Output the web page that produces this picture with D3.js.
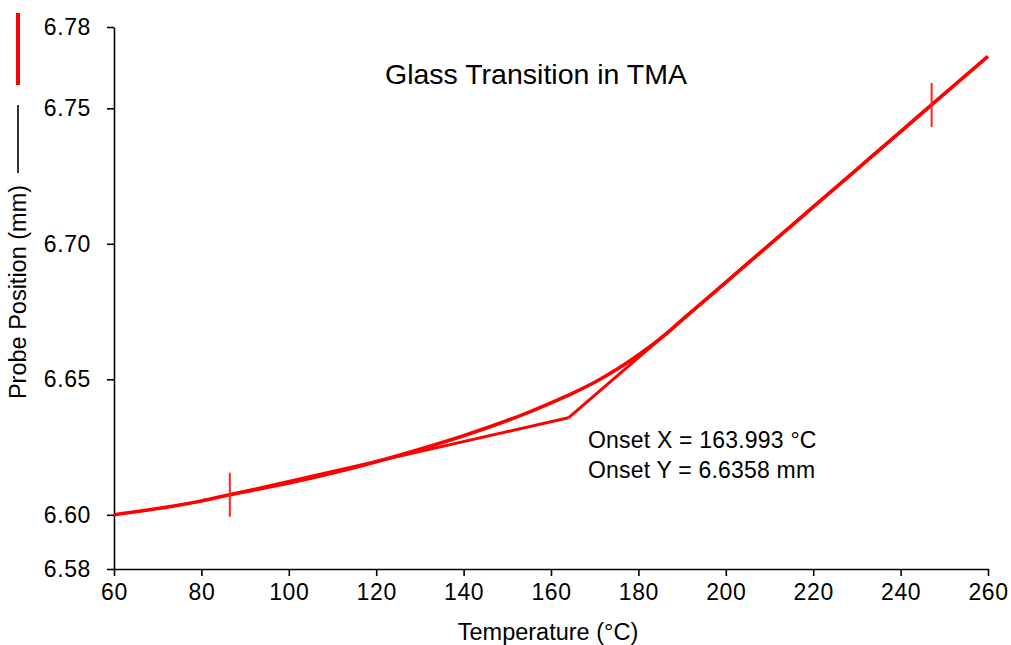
<!DOCTYPE html>
<html>
<head>
<meta charset="utf-8">
<script src="https://cdn.jsdelivr.net/npm/d3@7"></script>
<style>
  body { margin: 0; background: #fff; }
  svg { display: block; font-family: Arial, "Liberation Sans", sans-serif; }
  .axis path, .axis line { stroke: #000; stroke-width: 1.6; }
  .axis text { fill: #000; font-size: 23px; letter-spacing: 0.6px; }
</style>
</head>
<body>
<svg id="chart" width="1011" height="645"></svg>
<script>
// TMA run: temperature (°C) vs probe position (mm)
var temps = [60, 70, 80, 86.5, 90, 100, 110, 120, 130, 140, 150, 155, 160, 165, 170, 175, 180, 185, 190, 200, 210, 220, 230, 240, 247, 260];
var probe = [6.6000, 6.6023, 6.6051, 6.6074, 6.6085, 6.6117, 6.6154, 6.6196, 6.6242, 6.6292, 6.6348, 6.6379, 6.6413, 6.6449, 6.6489, 6.6536, 6.6590, 6.6650, 6.6719, 6.6858, 6.6997, 6.7136, 6.7275, 6.7414, 6.7512, 6.7692];

// tangent lines meeting at the onset point
var lowTanT = [86.5, 163.993];
var lowTanY = [6.6074, 6.6358];
var highTanT = [163.993, 247.1];
var highTanY = [6.6358, 6.7512];

// cursor marks
var markT = [86.5, 247.1];
var markY = [6.6074, 6.7512];

var xTicks = [60, 80, 100, 120, 140, 160, 180, 200, 220, 240, 260];
var yTicks = [6.58, 6.60, 6.65, 6.70, 6.75, 6.78];

var svg = d3.select("#chart");

var x = d3.scaleLinear().domain([60, 260]).range([114, 988]);
var y = d3.scaleLinear().domain([6.58, 6.78]).range([569, 27]);

//axes
svg.append("g")
  .attr("class", "axis")
  .attr("transform", "translate(0,569)")
  .call(d3.axisBottom(x).tickValues(xTicks).tickSizeInner(7).tickSizeOuter(0).tickPadding(8).tickFormat(d3.format("d")));

svg.append("g")
  .attr("class", "axis")
  .attr("transform", "translate(114,0)")
  .call(d3.axisLeft(y).tickValues(yTicks).tickSizeInner(7).tickSizeOuter(0).tickPadding(16).tickFormat(d3.format(".2f")));

var line = d3.line()
  .x(function(d) { return x(d[0]); })
  .y(function(d) { return y(d[1]); });

//main curve
svg.append("path")
  .datum(d3.zip(temps, probe))
  .attr("d", line.curve(d3.curveMonotoneX))
  .attr("fill", "none")
  .attr("stroke", "#ff0000")
  .attr("stroke-width", 3.6);

line.curve(d3.curveLinear);

//tangents
[[lowTanT, lowTanY], [highTanT, highTanY]].forEach(function(t) {
  svg.append("path")
    .datum(d3.zip(t[0], t[1]))
    .attr("d", line)
    .attr("fill", "none")
    .attr("stroke", "#ff0000")
    .attr("stroke-width", 3);
});

//vertical cursor marks
svg.selectAll(".mark")
  .data(d3.zip(markT, markY))
  .enter().append("line")
  .attr("class", "mark")
  .attr("x1", function(d) { return x(d[0]); })
  .attr("x2", function(d) { return x(d[0]); })
  .attr("y1", function(d) { return y(d[1]) - 22; })
  .attr("y2", function(d) { return y(d[1]) + 22; })
  .attr("stroke", "#ff2020")
  .attr("stroke-width", 2);

//title
svg.append("text")
  .attr("x", 536)
  .attr("y", 84)
  .attr("text-anchor", "middle")
  .attr("font-size", 28.5)
  .text("Glass Transition in TMA");

//onset annotation
svg.append("text")
  .attr("x", 588)
  .attr("y", 448)
  .attr("font-size", 23)
  .attr("letter-spacing", 0.2)
  .text("Onset X = 163.993 °C");
svg.append("text")
  .attr("x", 588)
  .attr("y", 478)
  .attr("font-size", 23)
  .attr("letter-spacing", 0.2)
  .text("Onset Y = 6.6358 mm");

//axis titles
svg.append("text")
  .attr("x", 548)
  .attr("y", 640)
  .attr("text-anchor", "middle")
  .attr("font-size", 23.5)
  .text("Temperature (°C)");

svg.append("text")
  .attr("transform", "translate(26,292) rotate(-90)")
  .attr("text-anchor", "middle")
  .attr("font-size", 23.5)
  .text("Probe Position (mm)");

//series keys next to the y title
svg.append("line")
  .attr("x1", 18).attr("x2", 18).attr("y1", 105).attr("y2", 173)
  .attr("stroke", "#000").attr("stroke-width", 1.6);
svg.append("line")
  .attr("x1", 18).attr("x2", 18).attr("y1", 13).attr("y2", 85)
  .attr("stroke", "#ff0000").attr("stroke-width", 4);
</script>
</body>
</html>
